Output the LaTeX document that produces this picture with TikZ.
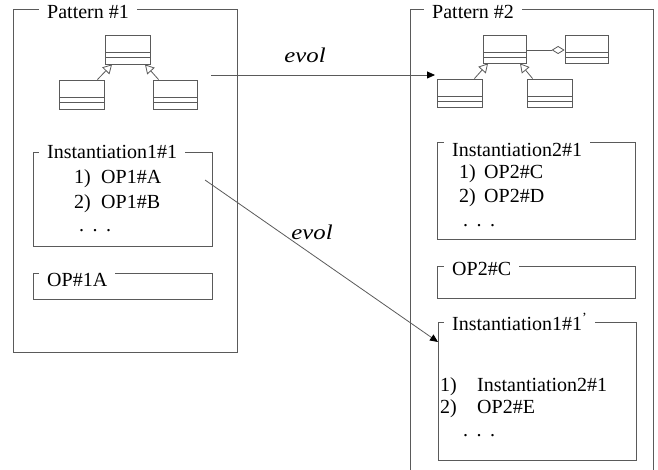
\documentclass[tikz,border=0pt]{standalone}
\usepackage{fontspec}
\setmainfont{Liberation Serif}
\newfontfamily\diagfont{Liberation Serif}
\usetikzlibrary{arrows.meta}
\definecolor{linegray}{RGB}{90,90,90}
\begin{document}
\begin{tikzpicture}[x=1pt,y=-1pt,
  line/.style={draw=linegray, line width=0.8pt},
  txt/.style={font=\diagfont\fontsize{20}{24}\selectfont, inner sep=0pt, anchor=base west},
  frame/.style={line, inner sep=0pt, anchor=north west},
  titlebox/.style={font=\diagfont\fontsize{20}{24}\selectfont, fill=white, inner xsep=8pt, inner ysep=2pt, anchor=base west},
  umlclass/.style={line, inner sep=0pt, minimum width=45pt, minimum height=29pt,
    path picture={
      \draw[line] ([yshift=-17pt]path picture bounding box.north west) -- ([yshift=-17pt]path picture bounding box.north east);
      \draw[line] ([yshift=-22pt]path picture bounding box.north west) -- ([yshift=-22pt]path picture bounding box.north east);
    }},
  inherit/.style={line, -{Triangle[open, length=9pt, width=10pt, fill=white]}},
  aggregate/.style={line, -{Diamond[open, length=13pt, width=8pt, fill=white]}},
  evolarrow/.style={line, -{Triangle[length=8pt, width=7pt, color=black]}},
  evollabel/.style={font=\diagfont\fontsize{21}{25}\selectfont\itshape, inner sep=0pt, anchor=base}
]
\useasboundingbox (0,0) rectangle (658,470);

% ---- Pattern #1 ----
\node[frame, minimum width=224pt, minimum height=343pt] (p1) at (13,9) {};
\node[titlebox] (p1t) at (39,19) {Pattern \#1};

\node[umlclass] (p1top) at (127.5,49.5) {};
\node[umlclass] (p1left) at (81.5,94.5) {};
\node[umlclass, minimum width=44pt] (p1right) at (175,94.5) {};
\draw[inherit] ([xshift=-7pt]p1left.north east) -- ([xshift=-15.5pt]p1top.south);
\draw[inherit] ([xshift=6pt]p1right.north west) -- ([xshift=17.5pt]p1top.south);

\node[frame, minimum width=179pt, minimum height=94pt] (i11) at (33,152) {};
\node[titlebox] (i11t) at (39,159) {Instantiation1\#1};
\node[txt] (i11n1) at (74,184) {1)};
\node[txt] (i11a) at (101,184) {OP1\#A};
\node[txt] (i11n2) at (74,209) {2)};
\node[txt] (i11b) at (101,209) {OP1\#B};
\node[txt] (i11d) at (79,232) {.\hspace{8.5pt}.\hspace{8.5pt}.};

\node[frame, minimum width=179pt, minimum height=26pt] (op1a) at (33,273) {};
\node[titlebox] (op1at) at (39,286) {OP\#1A};

% ---- Pattern #2 ----
\node[frame, minimum width=243pt, minimum height=480pt] (p2) at (410,9) {};
\node[titlebox] (p2t) at (424,19) {Pattern \#2};

\node[umlclass, minimum width=43pt, minimum height=28pt] (p2top) at (504.5,49) {};
\node[umlclass, minimum width=43pt, minimum height=28pt] (p2agg) at (586.5,49) {};
\node[umlclass, minimum height=28pt] (p2left) at (459.5,93) {};
\node[umlclass, minimum height=28pt] (p2right) at (549.5,93) {};
\draw[aggregate] ([yshift=-1pt]p2top.east) -- ([yshift=-1pt]p2agg.west);
\draw[inherit] ([xshift=-8pt]p2left.north east) -- ([xshift=-16.5pt]p2top.south);
\draw[inherit] ([xshift=6pt]p2right.north west) -- ([xshift=15.5pt]p2top.south);

\node[frame, minimum width=198pt, minimum height=97pt] (i21) at (437,142) {};
\node[titlebox] (i21t) at (444,157) {Instantiation2\#1};
\node[txt] (i21n1) at (459,179) {1)};
\node[txt] (i21c) at (484,179) {OP2\#C};
\node[txt] (i21n2) at (459,203) {2)};
\node[txt] (i21d2) at (484,203) {OP2\#D};
\node[txt] (i21d) at (463,227) {.\hspace{8.5pt}.\hspace{8.5pt}.};

\node[frame, minimum width=198pt, minimum height=32pt] (op2c) at (437,266) {};
\node[titlebox] (op2ct) at (444,276) {OP2\#C};

\node[frame, minimum width=198pt, minimum height=138pt] (i11p) at (438,322) {};
\node[titlebox] (i11pt) at (444,330) {Instantiation1\#1\textsuperscript{’}};
\node[txt] (i11pn1) at (440,391) {1)};
\node[txt] (i11pa) at (477,391) {Instantiation2\#1};
\node[txt] (i11pn2) at (440,413) {2)};
\node[txt] (i11pb) at (477,413) {OP2\#E};
\node[txt] (i11pd) at (463,436) {.\hspace{8.5pt}.\hspace{8.5pt}.};

% ---- evolution links ----
\coordinate (evAs) at (211,75);
\coordinate (evAe) at (435,75);
\draw[evolarrow] (evAs) -- (evAe);
\node[evollabel] (evAl) at (305,63) {\scalebox{1.18}[1]{evol}};

\coordinate (evBs) at (205,180);
\draw[evolarrow] (evBs) -- ([yshift=-20pt]i11p.north west);
\node[evollabel] (evBl) at (312,240) {\scalebox{1.18}[1]{evol}};
\end{tikzpicture}
\end{document}
